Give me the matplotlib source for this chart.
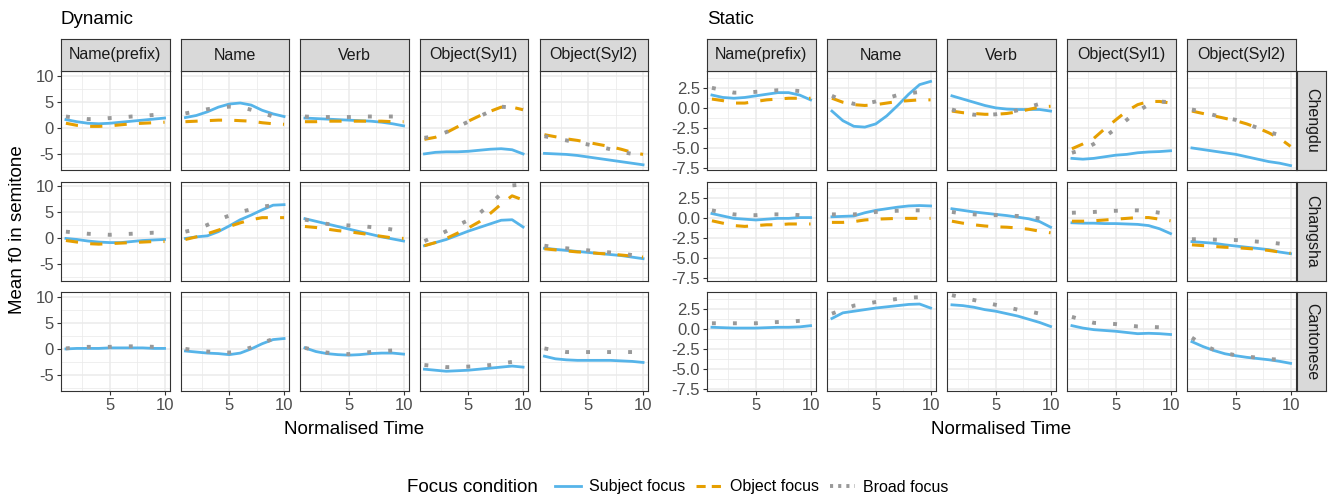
import matplotlib.pyplot as plt
from matplotlib.lines import Line2D

plt.rcParams['font.family'] = ['Liberation Sans', 'DejaVu Sans']
plt.rcParams['axes.unicode_minus'] = False

time = [1, 2, 3, 4, 5, 6, 7, 8, 9, 10]
words = ['Name(prefix)', 'Name', 'Verb', 'Object(Syl1)', 'Object(Syl2)']
dialects = ['Chengdu', 'Changsha', 'Cantonese']

#%% Dynamic: one list per word (Name(prefix), Name, Verb, Object(Syl1), Object(Syl2))
dyn_chengdu_subj = [[1.6, 1.2, 0.9, 0.8, 0.9, 1.1, 1.3, 1.5, 1.7, 1.9],
                    [2.0, 2.4, 3.1, 4.0, 4.6, 4.8, 4.4, 3.4, 2.7, 2.2],
                    [1.9, 1.8, 1.7, 1.6, 1.5, 1.4, 1.3, 1.1, 0.8, 0.4],
                    [-5.0, -4.7, -4.6, -4.6, -4.5, -4.3, -4.1, -4.0, -4.2, -5.0],
                    [-4.9, -5.0, -5.1, -5.3, -5.6, -5.9, -6.2, -6.5, -6.8, -7.1]]
dyn_chengdu_obj = [[0.9, 0.5, 0.3, 0.3, 0.4, 0.6, 0.8, 0.9, 1.0, 1.1],
                   [1.2, 1.3, 1.4, 1.5, 1.5, 1.4, 1.3, 1.0, 0.8, 0.7],
                   [1.2, 1.2, 1.3, 1.3, 1.3, 1.3, 1.3, 1.3, 1.2, 1.2],
                   [-2.2, -1.8, -0.9, 0.2, 1.3, 2.3, 3.2, 4.0, 4.0, 3.5],
                   [-1.3, -1.7, -2.1, -2.4, -2.8, -3.2, -3.6, -4.1, -4.7, -5.1]]
dyn_chengdu_broad = [[2.2, 1.9, 1.7, 1.7, 1.9, 2.0, 2.2, 2.3, 2.5, 2.6],
                     [2.8, 3.2, 3.6, 3.9, 4.1, 4.0, 3.5, 2.9, 2.2, 1.8],
                     [2.2, 2.1, 2.1, 2.1, 2.1, 2.2, 2.2, 2.2, 2.2, 2.2],
                     [-1.9, -1.6, -0.8, 0.2, 1.2, 2.2, 3.2, 4.1, 3.9, 3.6],
                     [-1.6, -2.0, -2.4, -2.8, -3.2, -3.6, -4.1, -4.6, -5.0, -5.3]]

dyn_changsha_subj = [[0.0, -0.2, -0.5, -0.7, -0.8, -0.8, -0.6, -0.4, -0.3, -0.2],
                     [0.0, 0.3, 0.5, 1.3, 2.4, 3.6, 4.5, 5.5, 6.4, 6.5],
                     [3.8, 3.3, 2.8, 2.3, 1.8, 1.3, 0.8, 0.3, -0.1, -0.5],
                     [-1.4, -0.8, -0.2, 0.6, 1.4, 2.1, 2.8, 3.5, 3.6, 2.2],
                     [-1.9, -2.1, -2.3, -2.5, -2.7, -2.9, -3.1, -3.3, -3.6, -3.9]]
dyn_changsha_obj = [[-0.4, -0.7, -1.0, -1.1, -1.0, -0.9, -0.8, -0.7, -0.6, -0.6],
                    [-0.2, 0.3, 0.9, 1.6, 2.3, 3.0, 3.6, 4.0, 4.0, 4.0],
                    [2.3, 2.1, 1.8, 1.5, 1.3, 1.0, 0.7, 0.4, 0.1, 0.0],
                    [-1.4, -0.8, 0.0, 1.0, 2.0, 3.2, 4.8, 6.6, 8.2, 7.4],
                    [-2.0, -2.2, -2.4, -2.6, -2.7, -2.9, -3.0, -3.2, -3.4, -3.6]]
dyn_changsha_broad = [[1.3, 1.1, 0.9, 0.8, 0.7, 0.8, 0.9, 1.0, 1.1, 1.1],
                      [1.3, 1.8, 2.6, 3.6, 4.4, 5.1, 5.6, 6.1, 6.4, 6.5],
                      [3.6, 3.3, 2.8, 2.6, 2.5, 2.4, 2.2, 2.0, 1.7, 1.5],
                      [-0.5, 0.4, 1.4, 2.5, 3.5, 4.8, 6.6, 8.6, 10.2, 10.4],
                      [-1.4, -1.7, -1.9, -2.1, -2.3, -2.5, -2.7, -2.9, -3.2, -3.4]]

dyn_cantonese_subj = [[0.0, 0.1, 0.1, 0.1, 0.2, 0.2, 0.2, 0.2, 0.1, 0.1],
                      [-0.4, -0.6, -0.8, -0.9, -1.1, -0.8, 0.0, 1.0, 1.8, 2.0],
                      [0.2, -0.5, -0.9, -1.1, -1.2, -1.1, -0.9, -0.8, -0.8, -1.0],
                      [-3.9, -4.1, -4.3, -4.2, -4.1, -3.9, -3.7, -3.5, -3.3, -3.5],
                      [-1.4, -1.9, -2.1, -2.2, -2.2, -2.2, -2.2, -2.3, -2.4, -2.6]]
dyn_cantonese_broad = [[0.1, 0.3, 0.4, 0.4, 0.4, 0.5, 0.5, 0.5, 0.4, 0.4],
                       [0.0, -0.3, -0.5, -0.6, -0.7, -0.4, 0.3, 1.2, 1.9, 2.1],
                       [0.2, -0.3, -0.7, -0.9, -1.0, -0.8, -0.6, -0.4, -0.3, -0.3],
                       [-3.1, -3.3, -3.5, -3.5, -3.4, -3.3, -3.1, -2.8, -2.5, -2.3],
                       [0.1, -0.3, -0.6, -0.6, -0.6, -0.6, -0.6, -0.6, -0.6, -0.6]]

#%% Static
sta_chengdu_subj = [[1.6, 1.3, 1.2, 1.3, 1.5, 1.7, 1.9, 1.9, 1.6, 1.0],
                    [-0.4, -1.6, -2.3, -2.4, -2.0, -1.0, 0.3, 1.7, 2.9, 3.3],
                    [1.5, 1.1, 0.7, 0.3, 0.0, -0.15, -0.2, -0.2, -0.2, -0.4],
                    [-6.3, -6.4, -6.3, -6.1, -5.9, -5.8, -5.6, -5.5, -5.45, -5.35],
                    [-5.0, -5.2, -5.4, -5.6, -5.8, -6.1, -6.4, -6.7, -6.9, -7.2]]
sta_chengdu_obj = [[1.1, 0.9, 0.6, 0.6, 0.8, 1.0, 1.1, 1.2, 1.2, 1.2],
                   [1.2, 0.7, 0.4, 0.3, 0.4, 0.6, 0.8, 0.9, 1.0, 1.0],
                   [-0.4, -0.6, -0.7, -0.8, -0.8, -0.7, -0.5, -0.2, 0.1, 0.2],
                   [-5.1, -4.5, -3.8, -2.6, -1.5, -0.4, 0.4, 0.8, 0.8, 0.6],
                   [-0.4, -0.7, -1.0, -1.3, -1.6, -2.0, -2.5, -3.1, -3.8, -4.8]]
sta_chengdu_broad = [[2.5, 2.2, 1.9, 1.9, 2.0, 2.1, 2.2, 2.2, 2.1, 2.1],
                     [1.5, 0.9, 0.5, 0.5, 0.8, 1.2, 1.6, 1.8, 2.0, 2.0],
                     [-0.2, -0.6, -0.85, -0.9, -0.8, -0.6, -0.3, 0.1, 0.5, 0.6],
                     [-5.6, -5.2, -4.5, -3.6, -2.6, -1.5, -0.4, 0.4, 0.8, 0.7],
                     [-0.2, -0.5, -0.9, -1.2, -1.5, -2.0, -2.5, -3.0, -3.4, -3.7]]

sta_changsha_subj = [[0.6, 0.3, 0.0, -0.1, -0.2, -0.1, 0.0, 0.0, 0.1, 0.1],
                     [0.2, 0.25, 0.3, 0.7, 1.0, 1.2, 1.4, 1.55, 1.6, 1.55],
                     [1.2, 1.0, 0.8, 0.65, 0.5, 0.35, 0.15, -0.05, -0.4, -1.1],
                     [-0.55, -0.6, -0.6, -0.65, -0.65, -0.7, -0.75, -0.9, -1.3, -1.9],
                     [-2.9, -3.0, -3.1, -3.3, -3.45, -3.6, -3.75, -3.9, -4.2, -4.4]]
sta_changsha_obj = [[-0.3, -0.6, -0.9, -1.0, -0.9, -0.8, -0.8, -0.7, -0.7, -0.7],
                    [-0.5, -0.5, -0.4, -0.2, -0.1, -0.05, 0.0, 0.0, 0.0, 0.0],
                    [-0.35, -0.6, -0.8, -0.95, -1.05, -1.1, -1.2, -1.35, -1.6, -1.8],
                    [-0.35, -0.35, -0.3, -0.2, -0.1, 0.0, 0.1, 0.1, -0.1, -0.3],
                    [-3.3, -3.4, -3.5, -3.6, -3.65, -3.75, -3.85, -4.0, -4.2, -4.35]]
sta_changsha_broad = [[1.0, 0.7, 0.5, 0.4, 0.4, 0.5, 0.5, 0.5, 0.4, 0.4],
                      [0.5, 0.5, 0.5, 0.6, 0.8, 0.9, 0.95, 1.0, 1.0, 1.0],
                      [0.8, 0.6, 0.5, 0.4, 0.4, 0.35, 0.3, 0.15, 0.0, -0.1],
                      [0.7, 0.75, 0.8, 0.9, 0.95, 1.0, 1.0, 0.9, 0.7, 0.5],
                      [-2.6, -2.6, -2.65, -2.7, -2.7, -2.8, -2.9, -3.0, -3.15, -3.3]]

sta_cantonese_subj = [[0.2, 0.15, 0.1, 0.1, 0.1, 0.15, 0.2, 0.2, 0.25, 0.4],
                      [1.3, 2.0, 2.2, 2.4, 2.6, 2.75, 2.9, 3.05, 3.1, 2.6],
                      [3.0, 2.9, 2.7, 2.4, 2.2, 1.9, 1.6, 1.2, 0.8, 0.3],
                      [0.4, 0.1, -0.1, -0.2, -0.3, -0.45, -0.6, -0.55, -0.6, -0.7],
                      [-1.6, -2.2, -2.7, -3.1, -3.35, -3.55, -3.7, -3.85, -4.05, -4.3]]
sta_cantonese_broad = [[0.7, 0.7, 0.7, 0.7, 0.7, 0.8, 0.85, 0.9, 1.0, 1.05],
                       [1.9, 2.4, 2.9, 3.1, 3.35, 3.55, 3.75, 3.9, 3.95, 4.0],
                       [4.2, 3.9, 3.6, 3.3, 3.0, 2.7, 2.4, 2.2, 1.9, 1.7],
                       [1.5, 1.1, 0.75, 0.7, 0.6, 0.45, 0.3, 0.25, 0.2, 0.2],
                       [-1.1, -2.0, -2.6, -3.0, -3.3, -3.45, -3.6, -3.75, -3.85, -3.95]]

dynamic = [(dyn_chengdu_subj, dyn_chengdu_obj, dyn_chengdu_broad),
           (dyn_changsha_subj, dyn_changsha_obj, dyn_changsha_broad),
           (dyn_cantonese_subj, None, dyn_cantonese_broad)]
static = [(sta_chengdu_subj, sta_chengdu_obj, sta_chengdu_broad),
          (sta_changsha_subj, sta_changsha_obj, sta_changsha_broad),
          (sta_cantonese_subj, None, sta_cantonese_broad)]

blue, orange, grey = '#56B4E9', '#E69F00', '#999999'
W, H = 1333, 497
fig = plt.figure(figsize=(W/100, H/100), dpi=100)


def px_axes(x, y, w, h):
    return fig.add_axes([x/W, 1-(y+h)/H, w/W, h/H])


def strip(x, y, w, h, text, rot=0):
    s = px_axes(x, y, w, h)
    s.set_facecolor('#D9D9D9')
    s.set_xticks([]); s.set_yticks([])
    for sp in s.spines.values():
        sp.set_color('#333333'); sp.set_linewidth(0.8)
    s.text(0.5, 0.5, text, ha='center', va='center', rotation=rot,
           fontsize=11.5, color='#1A1A1A', transform=s.transAxes)


col_w, row_h = 108.5, 99
rows_y = [71, 181.5, 292]


def facet_grid(data, lefts, ylim, yticks, ylabels, yminor, right_strip):
    for r in range(3):
        subj, obj, broad = data[r]
        for c in range(5):
            ax = px_axes(lefts[c], rows_y[r], col_w, row_h)
            ax.plot(time, subj[c], color=blue, lw=2.0, zorder=3)
            if obj is not None:
                ax.plot(time, obj[c], color=orange, lw=2.2, dashes=(4, 4), zorder=4)
            ax.plot(time, broad[c], color=grey, lw=2.8, dashes=(1, 4.4), zorder=5)
            ax.set_xlim(0.55, 10.45)
            ax.set_ylim(*ylim)
            ax.set_xticks([5, 10]); ax.set_xticks([2.5, 7.5], minor=True)
            ax.set_yticks(yticks); ax.set_yticks(yminor, minor=True)
            ax.set_yticklabels(ylabels)
            ax.grid(which='major', color='#EBEBEB', lw=1.1)
            ax.grid(which='minor', color='#EBEBEB', lw=0.55)
            ax.set_axisbelow(True)
            for sp in ax.spines.values():
                sp.set_color('#333333'); sp.set_linewidth(0.8)
            ax.tick_params(which='minor', length=0)
            ax.tick_params(which='major', length=3, width=0.8, color='#333333',
                           labelsize=12, labelcolor='#4D4D4D', pad=2)
            if r < 2:
                ax.tick_params(axis='x', length=0, labelbottom=False)
            if c > 0:
                ax.tick_params(axis='y', length=0, labelleft=False)
            if r == 0:
                strip(lefts[c], 39, col_w, 32, words[c])
        if right_strip:
            strip(lefts[4] + col_w + 1.5, rows_y[r], 29, row_h, dialects[r], rot=-90)


dyn_left = [61, 180.5, 300, 419.5, 539.5]
sta_left = [707, 827, 947, 1067, 1187]

facet_grid(dynamic, dyn_left, (-8.1, 10.96), [-5, 0, 5, 10], ['-5', '0', '5', '10'],
           [-7.5, -2.5, 2.5, 7.5], False)
facet_grid(static, sta_left, (-7.75, 4.6), [-7.5, -5, -2.5, 0, 2.5],
           ['-7.5', '-5.0', '-2.5', '0.0', '2.5'], [-6.25, -3.75, -1.25, 1.25, 3.75], True)

fig.text(61/W, 1-19/H, 'Dynamic', ha='left', va='center', fontsize=13.5)
fig.text(707/W, 1-19/H, 'Static', ha='left', va='center', fontsize=13.5)
fig.text((61+648)/2/W, 1-430/H, 'Normalised Time', ha='center', va='center', fontsize=13.5)
fig.text((707+1295)/2/W, 1-430/H, 'Normalised Time', ha='center', va='center', fontsize=13.5)
fig.text(18/W, 1-230/H, 'Mean f0 in semitone', ha='center', va='center',
         rotation=90, fontsize=13.5)

# legend
handles = [Line2D([], [], color=blue, lw=2.0),
           Line2D([], [], color=orange, lw=2.2, dashes=(3, 2)),
           Line2D([], [], color=grey, lw=2.8, dashes=(0.8, 1.3))]
fig.text(538/W, 1-487/H, 'Focus condition', ha='right', va='center', fontsize=13.5)
fig.legend(handles, ['Subject focus', 'Object focus', 'Broad focus'],
           loc='center', bbox_to_anchor=(752/W, 1-487/H), ncol=3, frameon=False,
           fontsize=11.5, handlelength=1.6, handletextpad=0.5, columnspacing=0.7)

fig.savefig('out.png', dpi=100)
